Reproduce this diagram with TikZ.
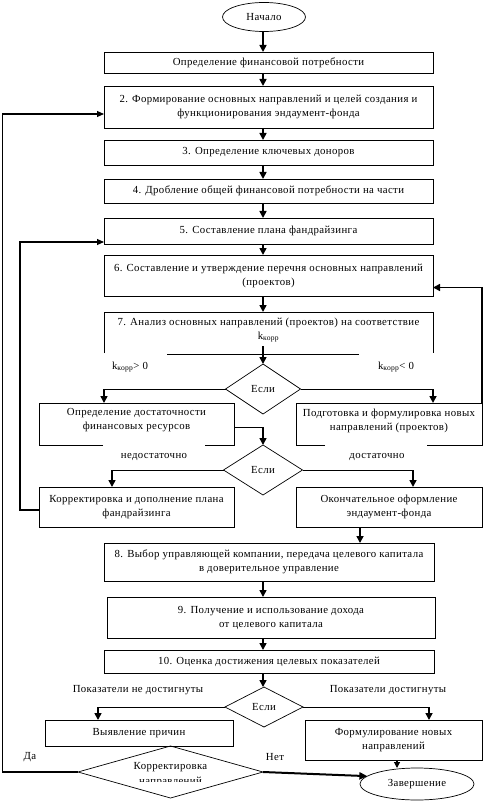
\documentclass[tikz,border=0pt]{standalone}
\usepackage{fontspec}
\setmainfont{Liberation Serif}[LetterSpace=3.5]
\usetikzlibrary{arrows.meta,shapes.geometric,calc}
\begin{document}
\begin{tikzpicture}[x=1pt,y=-1pt,
  every node/.style={inner sep=0pt, outer sep=0pt},
  fnt/.style={font=\fontsize{10.8}{14}\selectfont, align=center},
  box/.style={draw, line width=0.7pt, rectangle, fnt},
  frame/.style={draw=none, rectangle, fnt},
  oval/.style={draw, line width=0.7pt, ellipse, fnt},
  dia/.style={draw, line width=0.7pt, diamond, fnt},
  txt/.style={fnt},
  thinl/.style={line width=0.7pt},
  edge/.style={line width=0.7pt},
  arr/.style={line width=1.6pt, -{Triangle[length=7pt,width=7pt]}},
  arrthin/.style={line width=1.1pt, -{Triangle[length=7pt,width=6pt]}},
  arrthick/.style={line width=2pt, -{Triangle[length=8pt,width=7pt]}}
]
\useasboundingbox (0,0) rectangle (493,802);
\coordinate (cx) at (263,0);

% top
\node[oval, minimum width=83pt, minimum height=29pt] (start) at (264,17) {Начало};
\node[box, minimum width=329pt, minimum height=21pt] (b1) at (268.5,62.5) {Определение финансовой потребности};
\node[box, minimum width=329pt, minimum height=42pt] (b2) at (268.5,107) {2. Формирование основных направлений и целей создания и\\функционирования эндаумент-фонда};
\node[box, minimum width=329pt, minimum height=25pt] (b3) at (268.5,152.5) {3. Определение ключевых доноров};
\node[box, minimum width=329pt, minimum height=24pt] (b4) at (268.5,191) {4. Дробление общей финансовой потребности на части};
\node[box, minimum width=329pt, minimum height=26pt] (b5) at (268.5,231) {5. Составление плана фандрайзинга};
\node[box, minimum width=329pt, minimum height=41pt] (b6) at (268.5,275.5) {6. Составление и утверждение перечня основных направлений\\(проектов)};

% box 7 (open frame)
\node[frame, minimum width=329pt, minimum height=41pt] (b7) at (268.5,332.5) {};
\node[txt] (b7t) at (268.5,330) {7. Анализ основных направлений (проектов) на соответствие\\k\textsubscript{корр}};
\draw[edge] (b7.south west) -- (b7.north west) -- (b7.north east) -- (b7.south east);
\draw[edge] (167,354) -- (359,354);
\coordinate (k7) at (263,346);

\node[txt] (kl) at (130,367) {k\textsubscript{корр}> 0};
\node[txt] (kr) at (396,367) {k\textsubscript{корр}< 0};

\node[dia, minimum width=75pt, minimum height=50pt] (d1) at (263,389) {Если};

% second level
\node[frame, minimum width=195pt, minimum height=42pt] (lb) at (136.5,424) {};
\node[txt] (lbt) at (136.5,420.5) {Определение достаточности\\финансовых ресурсов};
\draw[edge] (103,445) -- (lb.south west) -- (lb.north west) -- (lb.north east) -- (lb.south east) -- (205,445);

\node[frame, minimum width=186pt, minimum height=42pt] (rb) at (389,424) {};
\node[txt] (rbt) at (389,420.5) {Подготовка и формулировка новых\\направлений (проектов)};
\draw[edge] (325,445) -- (rb.south west) -- (rb.north west) -- (rb.north east) -- (rb.south east) -- (427,445);

\node[txt] (nd) at (154,457) {недостаточно};
\node[txt] (dd) at (377,457) {достаточно};

\node[dia, minimum width=79pt, minimum height=50pt] (d2) at (263,470) {Если};

\node[box, minimum width=195pt, minimum height=40pt] (lb2) at (136.5,507) {Корректировка и дополнение плана\\фандрайзинга};
\node[box, minimum width=186pt, minimum height=40pt] (rb2) at (389,507) {Окончательное оформление\\эндаумент-фонда};

% lower part
\node[box, minimum width=330pt, minimum height=38pt] (b8) at (269,562) {8. Выбор управляющей компании, передача целевого капитала\\в доверительное управление};
\node[box, minimum width=328pt, minimum height=41pt] (b9) at (271,617.5) {9. Получение и использование дохода\\от целевого капитала};
\node[box, minimum width=330pt, minimum height=23pt] (b10) at (269,661.5) {10. Оценка достижения целевых показателей};

\node[txt] (pn) at (138,690) {Показатели не достигнуты};
\node[txt] (pd) at (388,690) {Показатели достигнуты};

\node[dia, minimum width=78pt, minimum height=40pt] (d3) at (264,707) {Если};

\node[box, minimum width=188pt, minimum height=26pt] (lb3) at (139,733) {Выявление причин};
\node[box, minimum width=177pt, minimum height=40pt] (rb3) at (393.5,740) {Формулирование новых\\направлений};

\node[dia, minimum width=185pt, minimum height=52pt] (d4) at (170.5,772) {};
\node[txt] (d4a) at (170.5,767) {Корректировка};
\begin{scope}
  \clip (100,760) rectangle (240,781.5);
  \node[txt] (d4b) at (170.5,782) {направлений};
\end{scope}

\node[txt] (da) at (30,757) {Да};
\node[txt] (net) at (275,757) {Нет};

\node[oval, minimum width=114pt, minimum height=32pt] (end) at (417,784) {Завершение};

% main connectors
\draw[arr] (start.south -| cx) -- (b1.north -| cx);
\draw[arr] (b1.south -| cx) -- (b2.north -| cx);
\draw[arr] (b2.south -| cx) -- (b3.north -| cx);
\draw[arr] (b3.south -| cx) -- (b4.north -| cx);
\draw[arr] (b4.south -| cx) -- (b5.north -| cx);
\draw[arr] (b5.south -| cx) -- (b6.north -| cx);
\draw[arr] (b6.south -| cx) -- (b7.north -| cx);
\draw[arr] (k7) -- (d1.north);

% decision 1 branches
\draw[thinl] (d1.west) -- (d1.west -| b7.west);
\draw[arr] (d1.west -| b7.west) -- (lb.north -| b7.west);
\draw[thinl] (d1.east) -- (d1.east -| b7.east);
\draw[arr] (d1.east -| b7.east) -- (rb.north -| b7.east);

% feedback to box 6
\draw[arr] (rb.north east) -- (rb.north east |- {$(b6.east)+(0,12)$}) -- ($(b6.east)+(0,12)$);

% to decision 2
\coordinate (lbo) at ($(lb.east)+(0,3)$);
\draw[thinl] (lbo) -- (lbo -| d2.north);
\draw[arr] (lbo -| d2.north) -- (d2.north);

\coordinate (xl2) at (112,0);
\coordinate (xr2) at (413,0);
\draw[thinl] (d2.west) -- (d2.west -| xl2);
\draw[arr] (d2.west -| xl2) -- (lb2.north -| xl2);
\draw[thinl] (d2.east) -- (d2.east -| xr2);
\draw[arr] (d2.east -| xr2) -- (rb2.north -| xr2);

% feedback to box 5
\coordinate (xf5) at (20,0);
\coordinate (lb2o) at ($(lb2.west)+(0,3)$);
\coordinate (b5i) at ($(b5.south west)+(0,-2)$);
\draw[arrthin] (lb2o) -- (lb2o -| xf5) -- (b5i -| xf5) -- (b5i);

% to box 8..10
\coordinate (x360) at (360,0);
\draw[arr] (rb2.south -| x360) -- (b8.north -| x360);
\draw[arr] (b8.south -| cx) -- (b9.north -| cx);
\draw[arr] (b9.south -| cx) -- (b10.north -| cx);
\draw[arr] (b10.south -| cx) -- (d3.north -| cx);

% decision 3 branches
\coordinate (xl3) at (98,0);
\coordinate (xr3) at (429,0);
\draw[thinl] (d3.west) -- (d3.west -| xl3);
\draw[arr] (d3.west -| xl3) -- (lb3.north -| xl3);
\draw[thinl] (d3.east) -- (d3.east -| xr3);
\draw[arr] (d3.east -| xr3) -- (rb3.north -| xr3);

% outer feedback to box 2
\coordinate (xf2) at (2.5,0);
\coordinate (b2i) at ($(b2.west)+(0,7)$);
\draw[arrthin] (d4.west) -- (d4.west -| xf2) -- (b2i -| xf2) -- (b2i);

% to end
\draw[arrthick] (d4.east) -- (end.171);
\coordinate (x397) at (397,0);
\draw[line width=1.1pt, -{Triangle[length=6pt,width=6pt]}] (rb3.south -| x397) -- (end.north -| x397);
\end{tikzpicture}
\end{document}
